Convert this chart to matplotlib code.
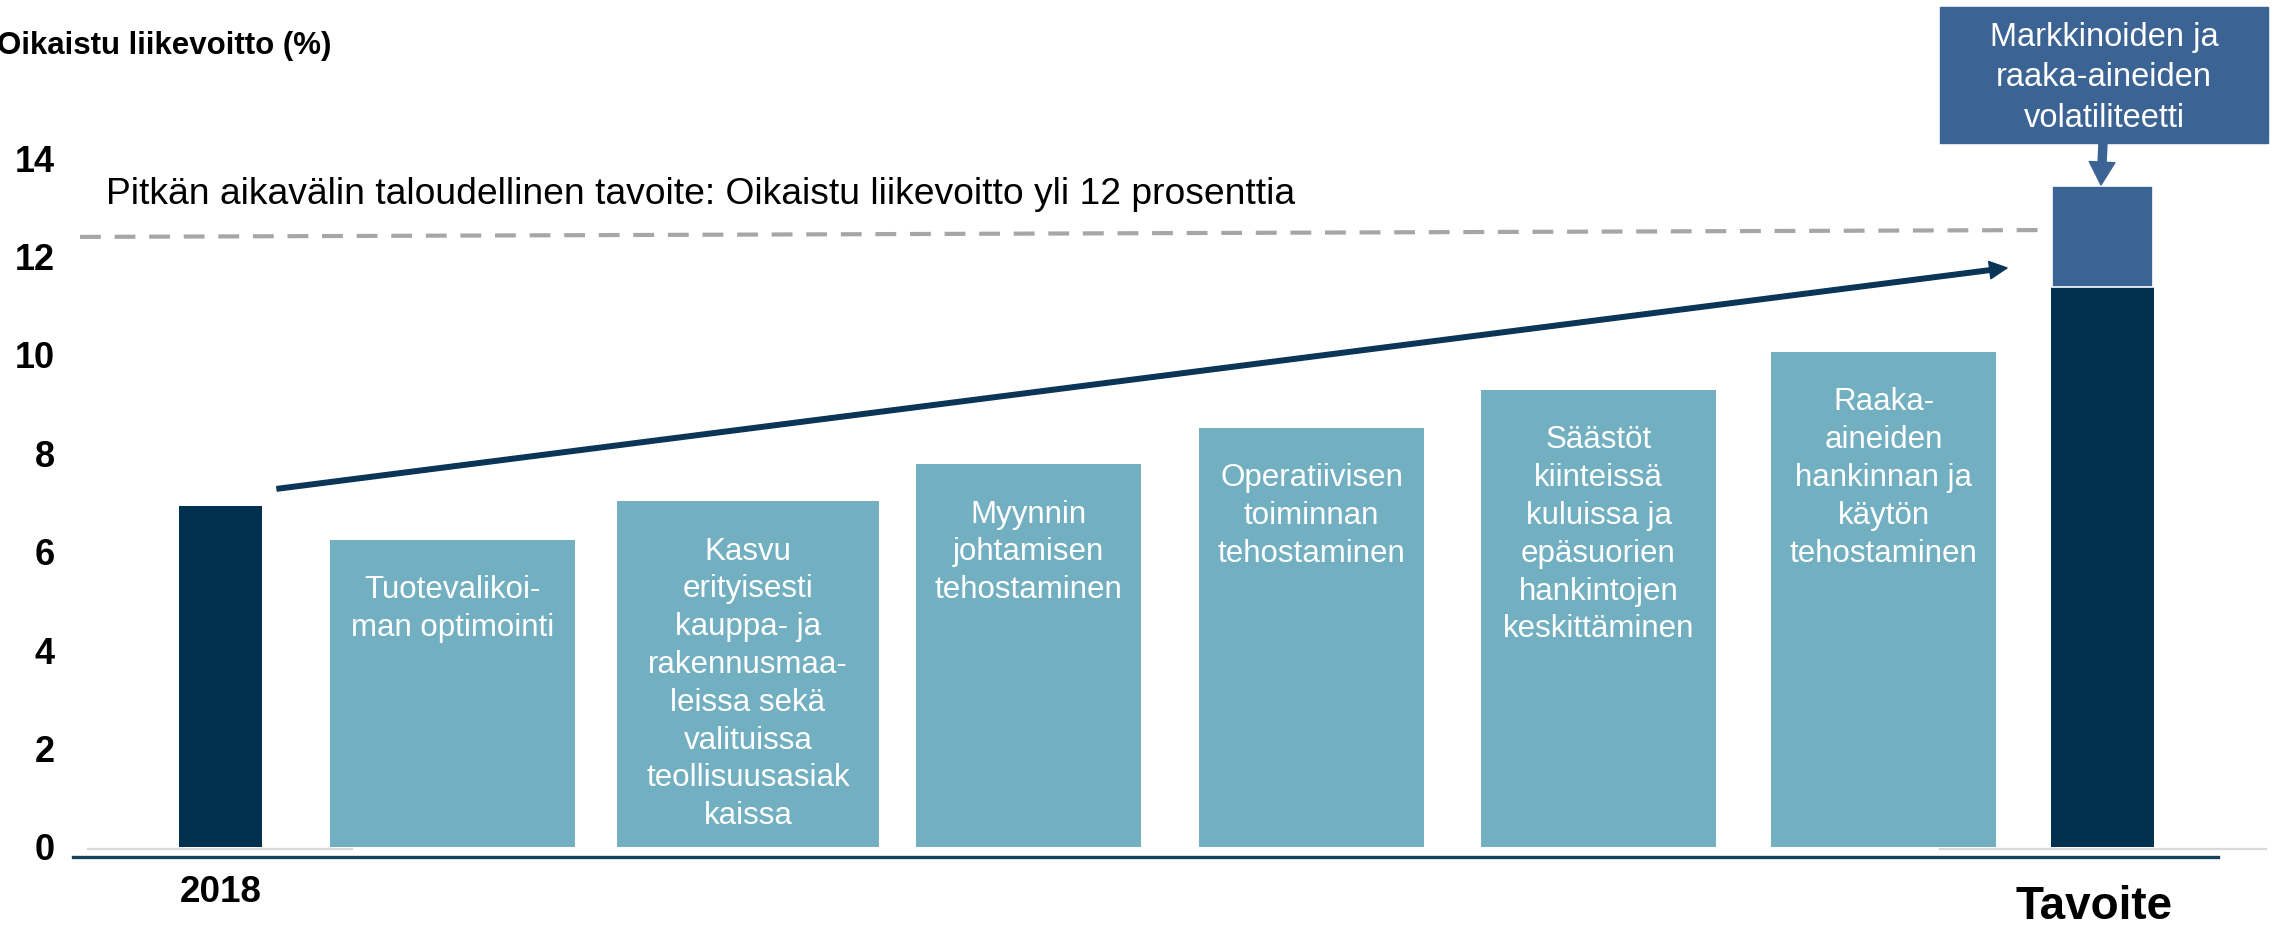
import matplotlib.pyplot as plt
from matplotlib.patches import FancyArrowPatch, Rectangle

plt.rcParams["font.family"] = ["Liberation Sans", "DejaVu Sans"]

# --- values (adjusted operating profit, %) ---
start_label = "2018"
start_value = 6.93
driver_labels = [
    "Tuotevalikoi-\nman optimointi",
    "Kasvu\nerityisesti\nkauppa- ja\nrakennusmaa-\nleissa sekä\nvalituissa\nteollisuusasiak\nkaissa",
    "Myynnin\njohtamisen\ntehostaminen",
    "Operatiivisen\ntoiminnan\ntehostaminen",
    "Säästöt\nkiinteissä\nkuluissa ja\nepäsuorien\nhankintojen\nkeskittäminen",
    "Raaka-\naineiden\nhankinnan ja\nkäytön\ntehostaminen",
]
driver_tops = [6.24, 7.03, 7.78, 8.52, 9.29, 10.06]
target_label = "Tavoite"
target_base = 11.38
target_top = 13.43
goal_level = [12.40, 12.54]
trend = [7.28, 11.77]
yticks = [0, 2, 4, 6, 8, 10, 12, 14]
ylabel = "Oikaistu liikevoitto (%)"
goal_text = "Pitkän aikavälin taloudellinen tavoite: Oikaistu liikevoitto yli 12 prosenttia"
risk_text = "Markkinoiden ja\nraaka-aineiden\nvolatiliteetti"

# --- layout (x in slide pixels, y in %) ---
start_x, start_w = 220.5, 83
driver_x = [452.5, 748, 1028.5, 1311.5, 1598.5, 1883.5]
driver_w = [245, 262, 225, 225, 235, 225]
target_x, target_w = 2102.5, 103
PX = 49.2          # pixels per percentage point
Y0 = 847           # pixel row of zero

NAVY = "#02304F"
TEAL = "#72B0C1"
MID = "#3B6494"
ARROW = "#0B3556"


def yv(row):
    return (Y0 - row) / PX


fig = plt.figure(figsize=(22.78, 9.25), dpi=100)
ax = fig.add_axes([70 / 2278, 0, 1 - 70 / 2278, 1])
ax.set_xlim(70, 2278)
ax.set_ylim(yv(925), yv(0))
for s in ax.spines.values():
    s.set_visible(False)
ax.set_xticks([])
ax.set_yticks(yticks)
ax.set_yticklabels([str(t) for t in yticks], fontsize=26, fontweight="bold")
ax.tick_params(axis="y", length=0, pad=10.8)

# axis lines
ax.plot([73, 2218], [yv(857)] * 2, color="#17405E", lw=2.4, clip_on=False, zorder=1)
ax.plot([88, 352], [yv(849)] * 2, color="#D9D9D9", lw=1.6, zorder=1)
ax.plot([1940, 2266], [yv(849)] * 2, color="#D9D9D9", lw=1.6, zorder=1)

# bars
ax.bar(start_x, start_value, width=start_w, color=NAVY, zorder=2)
ax.bar(driver_x, driver_tops, width=driver_w, color=TEAL, zorder=2)
ax.bar(target_x, target_base, width=target_w, color=NAVY, zorder=2)
ax.bar(target_x, target_top - target_base, bottom=target_base, width=target_w - 2,
       color=MID, edgecolor="white", linewidth=1.2, zorder=3)

for x, top, lab in zip(driver_x, driver_tops, driver_labels):
    ax.text(x, top - 0.72, lab, ha="center", va="top", color="white",
            fontsize=22.5, linespacing=1.34, zorder=4)

# goal line and text
ax.plot([80, 2048], goal_level, color="#A6A6A6", lw=3, dashes=(5, 3.3), zorder=1)
ax.text(106, yv(194), goal_text, ha="left", va="center", fontsize=26.8)

# trend arrow
ax.add_patch(FancyArrowPatch((277, trend[0]), (2007, trend[1]),
                             arrowstyle="simple,head_width=12.5,head_length=12.5,tail_width=3.3",
                             color=ARROW, shrinkA=0, shrinkB=0, zorder=5))

# volatility box
ax.add_patch(Rectangle((1940, yv(143)), 328, yv(7) - yv(143), color=MID,
                       clip_on=False, zorder=5))
ax.text(2104, yv(78), risk_text, ha="center", va="center", color="white",
        fontsize=23.5, linespacing=1.4, zorder=6)
ax.add_patch(FancyArrowPatch((2103, yv(143)), (2101, yv(185)),
                             arrowstyle="simple,head_width=18.5,head_length=16.5,tail_width=5.8",
                             color=MID, shrinkA=0, shrinkB=0, zorder=5))

# labels
ax.text(331, yv(46), ylabel, ha="right", va="center", fontsize=22.5, fontweight="bold")
ax.text(start_x, yv(902), start_label, ha="center", va="baseline",
        fontsize=26.5, fontweight="bold")
ax.text(2094, yv(919), target_label, ha="center", va="baseline",
        fontsize=33, fontweight="bold")

fig.savefig("out.png", dpi=100)
